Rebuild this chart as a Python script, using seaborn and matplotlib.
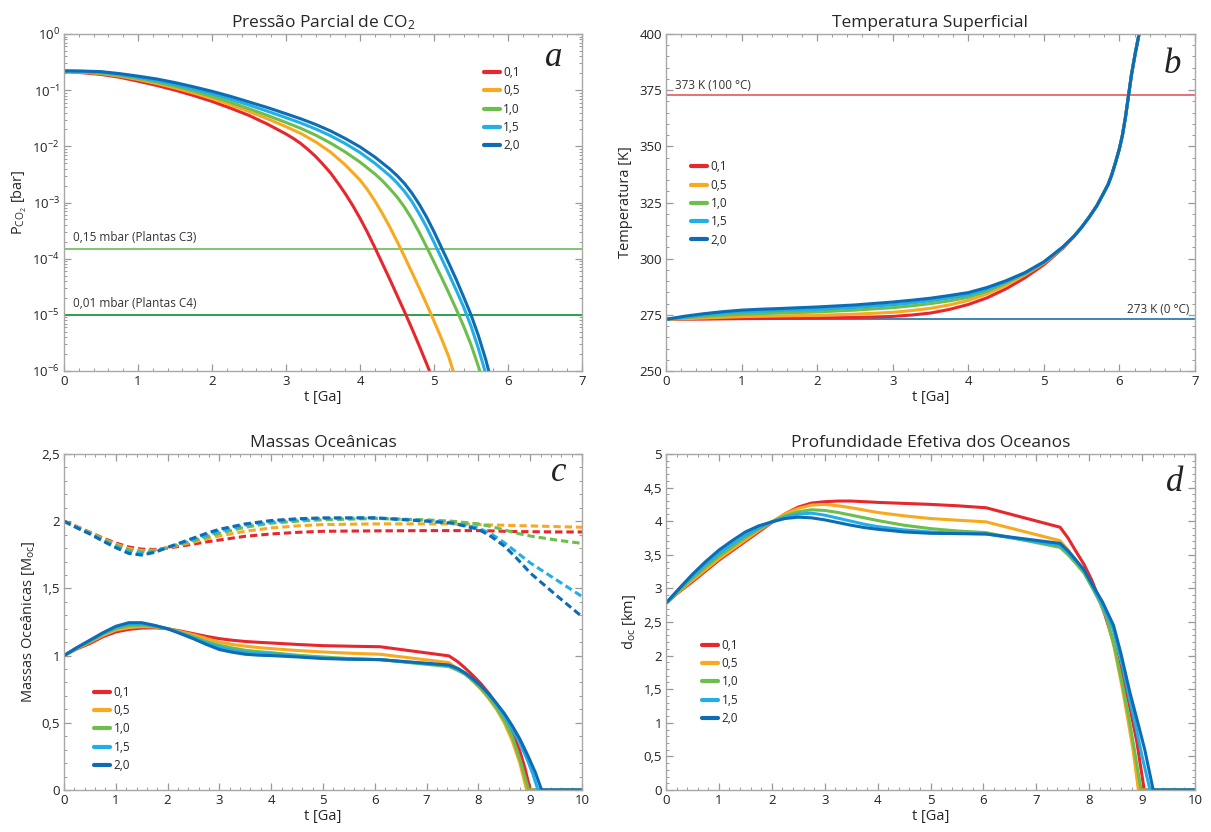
import numpy as np
import pandas as pd
import matplotlib
matplotlib.use("Agg")
import matplotlib.pyplot as plt
from matplotlib.ticker import FuncFormatter, MultipleLocator, LogLocator, NullFormatter
import seaborn as sns

# ---------------- data ----------------
labels = ["0,1", "0,5", "1,0", "1,5", "2,0"]
colors = ["#E8262E", "#F8A91F", "#6DBE4B", "#22AEE6", "#0D6CB4"]

# (a) CO2 partial pressure, log10(bar)
a_head = [0, 0.25, 0.5, 0.75, 1, 1.25, 1.5, 1.75, 2, 2.25, 2.5, 2.75, 3]
a_t = [
    a_head + [3.1, 3.2, 3.3, 3.4, 3.5, 3.6, 3.7, 3.8, 3.9, 4.0, 4.1, 4.2, 4.3, 4.4, 4.5, 4.6, 4.7, 4.8, 4.9, 4.97],
    a_head + [3.2, 3.4, 3.6, 3.8, 4.0, 4.1, 4.2, 4.3, 4.4, 4.5, 4.6, 4.7, 4.8, 4.9, 5.0, 5.1, 5.2, 5.27],
    a_head + [3.2, 3.4, 3.6, 3.8, 4.0, 4.2, 4.3, 4.4, 4.5, 4.6, 4.7, 4.8, 4.9, 5.0, 5.1, 5.2, 5.3, 5.4, 5.5, 5.6, 5.63],
    a_head + [3.2, 3.4, 3.6, 3.8, 4.0, 4.2, 4.4, 4.5, 4.6, 4.7, 4.8, 4.9, 5.0, 5.1, 5.2, 5.3, 5.4, 5.5, 5.6, 5.7],
    a_head + [3.2, 3.4, 3.6, 3.8, 4.0, 4.2, 4.4, 4.5, 4.6, 4.7, 4.8, 4.9, 5.0, 5.1, 5.2, 5.3, 5.4, 5.5, 5.6, 5.7, 5.75],
]
a_log10 = [
    [-0.67, -0.69, -0.72, -0.77, -0.84, -0.915, -1.0, -1.095, -1.2, -1.32, -1.45, -1.605, -1.78,
     -1.86, -1.95, -2.06, -2.18, -2.32, -2.47, -2.65, -2.84, -3.05, -3.28, -3.53, -3.8, -4.08, -4.36,
     -4.65, -4.94, -5.24, -5.55, -5.87, -6.1],
    [-0.67, -0.68, -0.705, -0.75, -0.81, -0.88, -0.96, -1.05, -1.15, -1.26, -1.38, -1.51, -1.65,
     -1.77, -1.92, -2.1, -2.33, -2.6, -2.77, -2.97, -3.19, -3.43, -3.69, -3.96, -4.24, -4.52, -4.81,
     -5.11, -5.42, -5.75, -6.05],
    [-0.665, -0.675, -0.695, -0.735, -0.79, -0.855, -0.93, -1.015, -1.11, -1.215, -1.33, -1.45, -1.575,
     -1.68, -1.8, -1.94, -2.1, -2.28, -2.49, -2.61, -2.75, -2.9, -3.08, -3.29, -3.53, -3.79, -4.06,
     -4.33, -4.61, -4.9, -5.2, -5.53, -5.92, -6.05],
    [-0.66, -0.665, -0.68, -0.72, -0.77, -0.83, -0.9, -0.98, -1.065, -1.16, -1.265, -1.375, -1.49,
     -1.585, -1.69, -1.81, -1.95, -2.11, -2.3, -2.52, -2.65, -2.8, -2.98, -3.2, -3.44, -3.71, -3.99,
     -4.27, -4.56, -4.86, -5.2, -5.6, -6.05],
    [-0.655, -0.66, -0.67, -0.705, -0.75, -0.8, -0.865, -0.94, -1.02, -1.11, -1.21, -1.31, -1.42,
     -1.51, -1.61, -1.725, -1.86, -2.01, -2.19, -2.4, -2.52, -2.66, -2.83, -3.03, -3.26, -3.52, -3.8,
     -4.08, -4.37, -4.68, -5.0, -5.37, -5.8, -6.05],
]
a_refs = [1.5e-4, 1e-5]
a_ref_labels = ["0,15 mbar (Plantas C3)", "0,01 mbar (Plantas C4)"]

# (b) surface temperature [K]
b_t = [0, 0.25, 0.5, 0.75, 1, 1.25, 1.5, 2, 2.5, 3, 3.25, 3.5, 3.75, 4, 4.25, 4.5, 4.75, 5.0, 5.25,
       5.4, 5.5, 5.6, 5.7, 5.78, 5.85, 5.9, 5.95, 6.0, 6.04, 6.08, 6.12, 6.16, 6.21, 6.26]
b_tail = [310, 314, 318.5, 323.5, 328.5, 333, 337.5, 343, 349, 355, 363, 372.5, 382, 391.5, 400]
b_T = [
    [273.0, 273.05, 273.1, 273.2, 273.3, 273.35, 273.4, 273.6, 273.8, 274.3, 274.9, 275.8, 277.4, 279.6,
     282.6, 286.6, 291.5, 297.3, 304.6] + b_tail,
    [273.0, 273.3, 273.6, 273.9, 274.2, 274.35, 274.5, 274.8, 275.3, 276.1, 276.9, 277.9, 279.4, 281.4,
     284.3, 288.1, 292.8, 298.0, 304.8] + b_tail,
    [273.0, 273.7, 274.3, 274.8, 275.2, 275.5, 275.8, 276.3, 277.1, 278.2, 279.0, 280.0, 281.2, 282.8,
     285.5, 289.2, 293.3, 298.2, 305.0] + b_tail,
    [273.0, 274.0, 274.9, 275.7, 276.3, 276.6, 276.9, 277.4, 278.3, 279.5, 280.3, 281.3, 282.5, 283.9,
     286.4, 289.7, 293.5, 298.4, 305.1] + b_tail,
    [273.0, 274.4, 275.5, 276.4, 277.1, 277.5, 277.8, 278.5, 279.4, 280.7, 281.5, 282.4, 283.6, 284.9,
     287.2, 290.2, 293.8, 298.6, 305.2] + b_tail,
]
b_refs = [373, 273]
b_ref_labels = ["373 K (100 °C)", "273 K (0 °C)"]

# (c) ocean masses, solid
c_head = [0, 0.25, 0.5, 0.75, 1, 1.25, 1.5, 1.75, 2, 2.25, 2.5, 2.75, 3, 3.25, 3.5, 3.75, 4, 4.5, 5,
          5.5, 6.1, 7.43, 7.6, 7.75, 7.9, 8.05, 8.2, 8.35, 8.5, 8.65, 8.8]
c_t = [
    c_head + [8.9, 9.0, 10],
    c_head + [8.93, 10],
    c_head + [8.97, 10],
    c_head + [8.95, 9.05, 9.15, 10],
    c_head + [8.95, 9.1, 9.22, 10],
]
c_M = [
    [1.0, 1.05, 1.09, 1.14, 1.176, 1.195, 1.205, 1.207, 1.2, 1.183, 1.163, 1.143, 1.126, 1.114, 1.105,
     1.099, 1.094, 1.083, 1.074, 1.07, 1.066, 0.998, 0.955, 0.905, 0.85, 0.79, 0.72, 0.64, 0.54, 0.43,
     0.29, 0.16, 0.0, 0.0],
    [1.0, 1.053, 1.1, 1.15, 1.19, 1.208, 1.216, 1.213, 1.2, 1.178, 1.155, 1.127, 1.1, 1.083, 1.07,
     1.06, 1.052, 1.038, 1.027, 1.018, 1.01, 0.948, 0.9, 0.86, 0.81, 0.75, 0.68, 0.6, 0.5, 0.37,
     0.2, 0.0, 0.0],
    [1.0, 1.056, 1.105, 1.16, 1.2, 1.222, 1.226, 1.217, 1.2, 1.172, 1.14, 1.105, 1.077, 1.057, 1.04,
     1.03, 1.022, 1.003, 0.99, 0.978, 0.97, 0.918, 0.89, 0.86, 0.81, 0.755, 0.69, 0.61, 0.52, 0.4,
     0.23, 0.0, 0.0],
    [1.0, 1.058, 1.11, 1.165, 1.21, 1.235, 1.237, 1.222, 1.2, 1.168, 1.132, 1.095, 1.064, 1.04, 1.025,
     1.017, 1.013, 0.995, 0.982, 0.975, 0.97, 0.925, 0.9, 0.865, 0.82, 0.77, 0.71, 0.635, 0.55, 0.455,
     0.35, 0.22, 0.12, 0.0, 0.0],
    [1.0, 1.06, 1.115, 1.17, 1.218, 1.245, 1.245, 1.225, 1.2, 1.163, 1.125, 1.083, 1.045, 1.025, 1.01,
     1.003, 1.0, 0.99, 0.978, 0.973, 0.97, 0.93, 0.905, 0.87, 0.825, 0.775, 0.715, 0.645, 0.57, 0.48,
     0.38, 0.26, 0.13, 0.0, 0.0],
]
# (c) ocean masses, dashed
c2_t = [0, 0.25, 0.5, 0.75, 1, 1.25, 1.5, 1.75, 2, 2.25, 2.5, 2.75, 3, 3.5, 4, 4.5, 5, 6, 7, 7.5, 8,
        8.25, 8.5, 8.75, 9, 9.5, 10]
c2_M = [
    [2.0, 1.96, 1.918, 1.875, 1.838, 1.808, 1.792, 1.79, 1.80, 1.814, 1.83, 1.846, 1.86, 1.888, 1.905,
     1.917, 1.925, 1.928, 1.93, 1.93, 1.93, 1.928, 1.925, 1.923, 1.922, 1.92, 1.92],
    [2.0, 1.957, 1.915, 1.87, 1.83, 1.797, 1.782, 1.785, 1.802, 1.823, 1.845, 1.868, 1.89, 1.925, 1.95,
     1.965, 1.975, 1.98, 1.98, 1.98, 1.975, 1.972, 1.97, 1.967, 1.965, 1.96, 1.955],
    [2.0, 1.955, 1.912, 1.865, 1.822, 1.786, 1.772, 1.78, 1.805, 1.83, 1.855, 1.882, 1.91, 1.955, 1.985,
     2.0, 2.01, 2.02, 2.01, 2.0, 1.98, 1.96, 1.935, 1.91, 1.89, 1.86, 1.835],
    [2.0, 1.953, 1.908, 1.858, 1.812, 1.772, 1.758, 1.772, 1.805, 1.835, 1.865, 1.895, 1.925, 1.97, 1.995,
     2.01, 2.02, 2.025, 2.005, 1.99, 1.95, 1.905, 1.84, 1.765, 1.69, 1.565, 1.44],
    [2.0, 1.95, 1.905, 1.852, 1.803, 1.76, 1.748, 1.768, 1.805, 1.84, 1.875, 1.91, 1.94, 1.98, 2.005,
     2.018, 2.025, 2.025, 2.0, 1.985, 1.94, 1.885, 1.815, 1.72, 1.615, 1.45, 1.29],
]

# (d) effective ocean depth [km]
d_head = [0, 0.25, 0.5, 0.75, 1, 1.25, 1.5, 1.75, 2, 2.25, 2.5, 2.75, 3, 3.25, 3.5, 3.75, 4, 4.5, 5,
          5.5, 6.05, 7.45, 7.6, 7.75, 7.9, 8.05]
d_t = [
    d_head + [8.15, 8.3, 8.45, 8.6, 8.75, 8.9, 9.04, 10],
    d_head + [8.2, 8.33, 8.47, 8.61, 8.72, 8.83, 8.93, 10],
    d_head + [8.2, 8.33, 8.48, 8.62, 8.74, 8.85, 8.98, 10],
    d_head + [8.25, 8.45, 8.6, 8.75, 8.88, 9.0, 9.15, 10],
    d_head + [8.25, 8.46, 8.6, 8.77, 8.92, 9.05, 9.21, 10],
]
d_km = [
    [2.78, 2.95, 3.1, 3.26, 3.42, 3.56, 3.7, 3.84, 3.98, 4.11, 4.21, 4.27, 4.29, 4.3, 4.3, 4.29, 4.28,
     4.265, 4.25, 4.23, 4.2, 3.91, 3.75, 3.55, 3.36, 3.12, 2.92, 2.6, 2.22, 1.78, 1.3, 0.72, 0.0, 0.0],
    [2.78, 2.96, 3.12, 3.28, 3.44, 3.58, 3.72, 3.86, 3.99, 4.11, 4.19, 4.24, 4.25, 4.23, 4.2, 4.165, 4.13,
     4.08, 4.04, 4.015, 3.99, 3.71, 3.57, 3.42, 3.26, 3.05, 2.8, 2.57, 2.13, 1.58, 1.1, 0.59, 0.0, 0.0],
    [2.78, 2.97, 3.15, 3.32, 3.48, 3.62, 3.76, 3.88, 3.99, 4.08, 4.14, 4.17, 4.16, 4.13, 4.09, 4.05, 4.01,
     3.94, 3.89, 3.855, 3.83, 3.61, 3.5, 3.37, 3.23, 3.02, 2.8, 2.57, 2.12, 1.6, 1.12, 0.62, 0.0, 0.0],
    [2.78, 2.99, 3.18, 3.36, 3.52, 3.66, 3.79, 3.9, 3.99, 4.06, 4.105, 4.12, 4.09, 4.045, 4.0, 3.955, 3.92,
     3.87, 3.84, 3.82, 3.81, 3.64, 3.54, 3.41, 3.27, 3.05, 2.75, 2.4, 1.95, 1.4, 0.95, 0.5, 0.0, 0.0],
    [2.78, 3.0, 3.21, 3.4, 3.57, 3.71, 3.84, 3.93, 3.99, 4.04, 4.06, 4.05, 4.02, 3.98, 3.94, 3.905, 3.88,
     3.84, 3.82, 3.815, 3.81, 3.67, 3.56, 3.42, 3.28, 3.07, 2.8, 2.45, 2.03, 1.45, 1.0, 0.6, 0.0, 0.0],
]


def long_df(ts, vs, transform=None):
    rows = []
    for lab, t, v in zip(labels, ts, vs):
        v = np.asarray(v, dtype=float)
        if transform is not None:
            v = transform(v)
        rows.append(pd.DataFrame({"t": t, "v": v, "s": lab}))
    return pd.concat(rows, ignore_index=True)


# ---------------- style ----------------
sns.set_theme(style="ticks")
plt.rcParams["font.family"] = ["Open Sans", "DejaVu Sans"]
plt.rcParams["mathtext.fontset"] = "custom"
plt.rcParams["mathtext.rm"] = "Open Sans"
plt.rcParams["mathtext.it"] = "Open Sans:italic"
plt.rcParams["axes.unicode_minus"] = False
plt.rcParams["lines.solid_joinstyle"] = "round"
plt.rcParams["lines.dash_joinstyle"] = "round"

palette = dict(zip(labels, colors))
LW = 2.2
TICKFS = 9.5
TITLEFS = 12.5
LABELFS = 10.5
SPINE = "#a8a8a8"

fig = plt.figure(figsize=(12.11, 8.32), dpi=100)
W, H = 1211, 832
def box(l, t, r, b):
    return [l / W, 1 - b / H, (r - l) / W, (b - t) / H]

ax_a = fig.add_axes(box(64, 34, 582, 371))
ax_b = fig.add_axes(box(666, 34, 1195, 371))
ax_c = fig.add_axes(box(64, 454, 582, 790))
ax_d = fig.add_axes(box(666, 454, 1195, 790))

comma = FuncFormatter(lambda v, p: f"{v:g}".replace(".", ","))


def style_axes(ax):
    for sp in ax.spines.values():
        sp.set_color(SPINE)
        sp.set_linewidth(1.0)
    ax.tick_params(which="both", direction="in", top=True, right=True,
                   color="#999999", labelsize=TICKFS, labelcolor="#222222", pad=3)
    ax.tick_params(which="major", length=5, width=0.9)
    ax.tick_params(which="minor", length=2.5, width=0.7)
    ax.set_xlabel("t [Ga]", fontsize=LABELFS, labelpad=1)


def legend(ax, x, y):
    sns.move_legend(ax, loc="upper left", bbox_to_anchor=(x, y), title=None,
                    frameon=False, fontsize=8.5, handlelength=1.35, handletextpad=0.3,
                    labelspacing=0.45, borderpad=0, borderaxespad=0)
    for h in ax.get_legend().legend_handles:
        h.set_linewidth(3.0)


def letter(ax, s, x, y):
    ax.text(x, y, s, transform=ax.transAxes, ha="center", va="baseline",
            fontsize=25, fontstyle="italic", family="Liberation Serif", color="#222222")


# ---- (a)
df_a = long_df(a_t, a_log10, transform=lambda v: np.power(10.0, v))
for yref, col in zip(a_refs, ["#7DC86C", "#2E9F4A"]):
    ax_a.axhline(yref, color=col, lw=1.4, zorder=1)
for yref, txt in zip(a_refs, a_ref_labels):
    ax_a.text(0.12, yref * 1.2, txt, fontsize=8.5, color="#333333", va="bottom", ha="left")
sns.lineplot(data=df_a, x="t", y="v", hue="s", palette=palette, hue_order=labels,
             estimator=None, sort=False, lw=LW, ax=ax_a)
ax_a.set_yscale("log")
ax_a.set_ylim(1e-6, 1)
ax_a.set_xlim(0, 7)
ax_a.xaxis.set_major_locator(MultipleLocator(1))
ax_a.xaxis.set_minor_locator(MultipleLocator(0.2))
ax_a.yaxis.set_major_locator(LogLocator(base=10, numticks=10))
ax_a.yaxis.set_minor_locator(LogLocator(base=10, subs=np.arange(2, 10), numticks=20))
ax_a.yaxis.set_minor_formatter(NullFormatter())
style_axes(ax_a)
ax_a.set_ylabel(r"P$_{\mathrm{CO_2}}$ [bar]", fontsize=LABELFS, labelpad=2)
ax_a.set_title(r"Pressão Parcial de CO$_2$", fontsize=TITLEFS, pad=5)
legend(ax_a, 0.81, 0.905)
letter(ax_a, "a", 0.945, 0.905)

# ---- (b)
df_b = long_df([b_t] * 5, b_T)
ax_b.axhline(b_refs[0], color="#E04A50", lw=1.1, zorder=1)
ax_b.axhline(b_refs[1], color="#2A7DB8", lw=1.3, zorder=1)
ax_b.text(0.12, b_refs[0] + 1.3, b_ref_labels[0], fontsize=8.5, color="#333333", va="bottom", ha="left")
ax_b.text(6.92, b_refs[1] + 1.3, b_ref_labels[1], fontsize=8.5, color="#333333", va="bottom", ha="right")
sns.lineplot(data=df_b, x="t", y="v", hue="s", palette=palette, hue_order=labels,
             estimator=None, sort=False, lw=LW, ax=ax_b)
ax_b.set_xlim(0, 7)
ax_b.set_ylim(250, 400)
ax_b.xaxis.set_major_locator(MultipleLocator(1))
ax_b.xaxis.set_minor_locator(MultipleLocator(0.2))
ax_b.yaxis.set_major_locator(MultipleLocator(25))
ax_b.yaxis.set_minor_locator(MultipleLocator(5))
style_axes(ax_b)
ax_b.set_ylabel("Temperatura [K]", fontsize=LABELFS, labelpad=4)
ax_b.set_title("Temperatura Superficial", fontsize=TITLEFS, pad=5)
legend(ax_b, 0.048, 0.625)
letter(ax_b, "b", 0.957, 0.885)

# ---- (c)
df_c = long_df(c_t, c_M)
df_c2 = long_df([c2_t] * 5, c2_M)
sns.lineplot(data=df_c2, x="t", y="v", hue="s", palette=palette, hue_order=labels,
             estimator=None, sort=False, lw=LW, ax=ax_c, legend=False,
             linestyle=(0, (2.4, 1.3)))
sns.lineplot(data=df_c, x="t", y="v", hue="s", palette=palette, hue_order=labels,
             estimator=None, sort=False, lw=LW, ax=ax_c)
ax_c.set_xlim(0, 10)
ax_c.set_ylim(0, 2.5)
ax_c.xaxis.set_major_locator(MultipleLocator(1))
ax_c.xaxis.set_minor_locator(MultipleLocator(0.2))
ax_c.yaxis.set_major_locator(MultipleLocator(0.5))
ax_c.yaxis.set_minor_locator(MultipleLocator(0.1))
ax_c.yaxis.set_major_formatter(comma)
style_axes(ax_c)
ax_c.set_ylabel(r"Massas Oceânicas [M$_{\mathrm{oc}}$]", fontsize=LABELFS, labelpad=3)
ax_c.set_title("Massas Oceânicas", fontsize=TITLEFS, pad=5)
legend(ax_c, 0.058, 0.31)
letter(ax_c, "c", 0.955, 0.92)

# ---- (d)
df_d = long_df(d_t, d_km)
sns.lineplot(data=df_d, x="t", y="v", hue="s", palette=palette, hue_order=labels,
             estimator=None, sort=False, lw=LW, ax=ax_d)
ax_d.set_xlim(0, 10)
ax_d.set_ylim(0, 5)
ax_d.xaxis.set_major_locator(MultipleLocator(1))
ax_d.xaxis.set_minor_locator(MultipleLocator(0.2))
ax_d.yaxis.set_major_locator(MultipleLocator(0.5))
ax_d.yaxis.set_minor_locator(MultipleLocator(0.1))
ax_d.yaxis.set_major_formatter(comma)
style_axes(ax_d)
ax_d.set_ylabel(r"d$_{\mathrm{oc}}$ [km]", fontsize=LABELFS, labelpad=4)
ax_d.set_title("Profundidade Efetiva dos Oceanos", fontsize=TITLEFS, pad=5)
legend(ax_d, 0.068, 0.45)
letter(ax_d, "d", 0.962, 0.89)

fig.savefig("out.png", dpi=100)
